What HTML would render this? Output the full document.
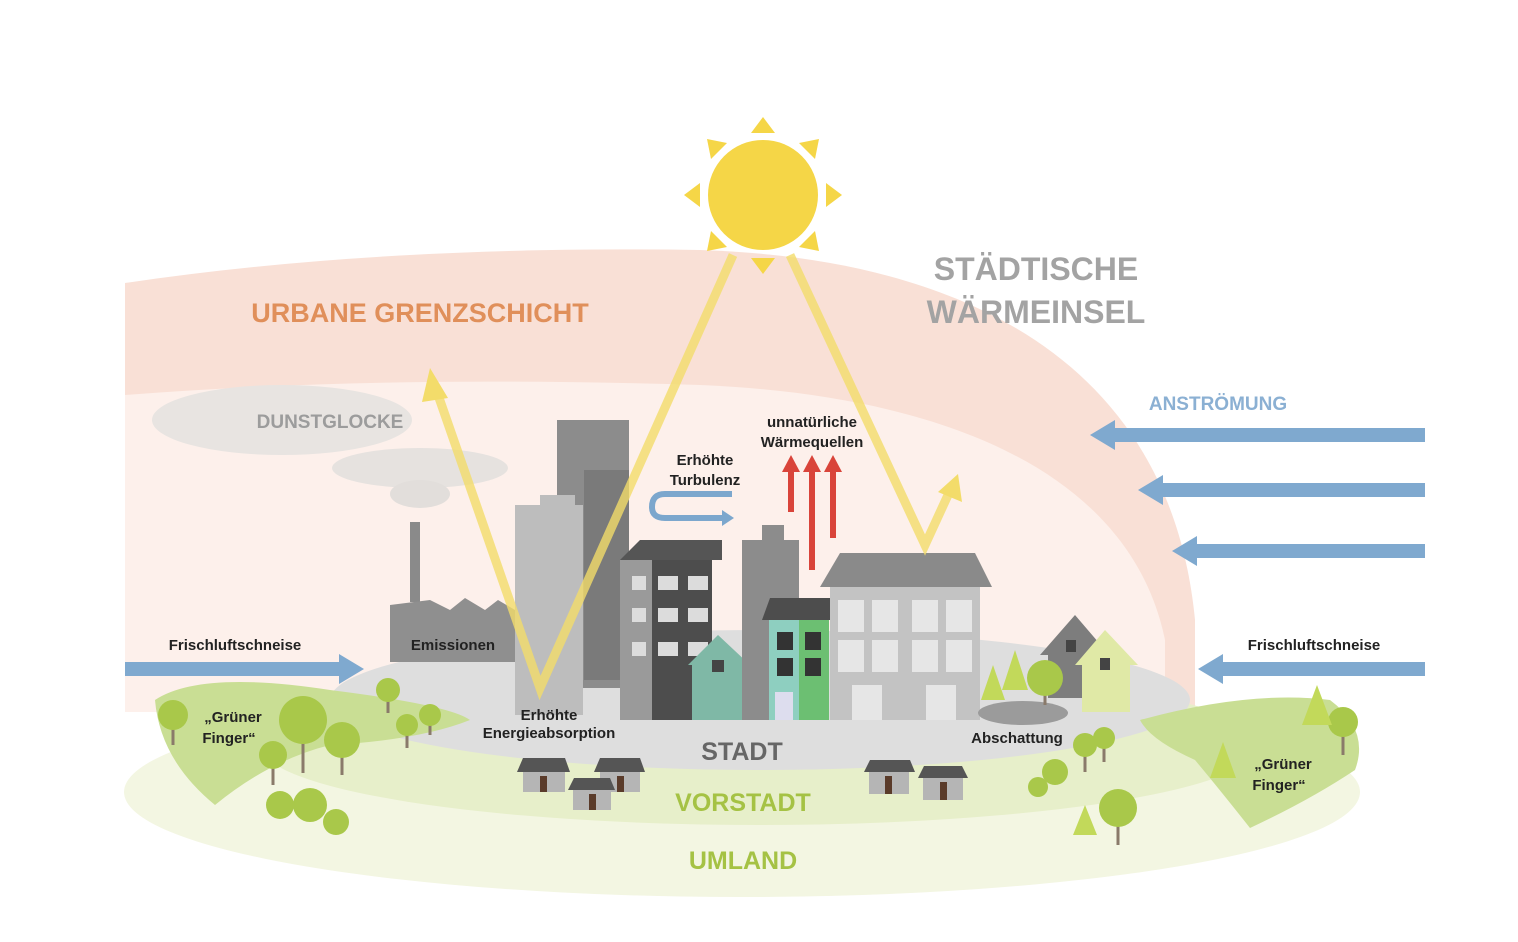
<!DOCTYPE html>
<html><head><meta charset="utf-8"><style>
html,body{margin:0;padding:0;background:#fff}
svg{display:block}
text{font-family:"Liberation Sans",sans-serif;font-weight:bold}
</style></head><body>
<svg width="1518" height="942" viewBox="0 0 1518 942" xmlns="http://www.w3.org/2000/svg">
<rect width="1518" height="942" fill="#fff"/>
<!-- pink dome -->
<path d="M125,283 Q380,245 700,250 C960,258 1170,360 1195,620 L1195,712 L125,712 Z" fill="#f9e0d6"/>
<path d="M125,395 Q380,375 700,385 C940,395 1130,470 1165,640 L1165,712 L125,712 Z" fill="#fdf0eb"/>
<!-- ground -->
<ellipse cx="742" cy="792" rx="618" ry="105" fill="#f3f6e2"/>
<ellipse cx="760" cy="745" rx="500" ry="80" fill="#e7efca"/>
<ellipse cx="760" cy="700" rx="430" ry="70" fill="#dedede"/>
<!-- green fingers -->
<path d="M155,700 Q200,670 330,690 Q450,705 470,720 Q420,740 330,745 Q270,760 215,805 Q160,760 155,700 Z" fill="#c9de94"/>
<path d="M1140,720 Q1250,690 1330,700 Q1370,730 1355,770 Q1310,800 1250,828 Q1220,790 1195,760 Q1150,740 1140,720 Z" fill="#c9de94"/>
<!-- dunstglocke -->
<ellipse cx="282" cy="420" rx="130" ry="35" fill="#e8e4e1"/>
<ellipse cx="420" cy="468" rx="88" ry="20" fill="#e6e2df"/>
<ellipse cx="420" cy="494" rx="30" ry="14" fill="#e2dedb"/>
<!-- factory -->
<rect x="410" y="522" width="10" height="80" fill="#8a8a8a"/>
<path d="M390,605 L430,600 L450,610 L465,598 L485,610 L498,600 L515,610 L515,662 L390,662 Z" fill="#8f8f8f"/>
<!-- towers -->
<rect x="557" y="420" width="72" height="268" fill="#8c8c8c"/>
<rect x="515" y="505" width="68" height="210" fill="#bdbdbd"/>
<rect x="540" y="495" width="35" height="12" fill="#bdbdbd"/>
<rect x="584" y="470" width="45" height="210" fill="#7a7a7a"/>
<!-- dark apartment -->
<path d="M620,560 L640,540 L722,540 L722,560 Z" fill="#555"/>
<rect x="620" y="560" width="35" height="160" fill="#9a9a9a"/>
<rect x="652" y="560" width="60" height="160" fill="#4d4d4d"/>
<g fill="#dcdcdc"><rect x="632" y="576" width="14" height="14"/><rect x="658" y="576" width="20" height="14"/><rect x="688" y="576" width="20" height="14"/>
<rect x="632" y="608" width="14" height="14"/><rect x="658" y="608" width="20" height="14"/><rect x="688" y="608" width="20" height="14"/>
<rect x="632" y="642" width="14" height="14"/><rect x="658" y="642" width="20" height="14"/><rect x="688" y="642" width="20" height="14"/></g>
<!-- teal house -->
<path d="M688,665 L718,635 L750,665 L744,665 L744,720 L692,720 L692,665 Z" fill="#7fb8a6"/>
<rect x="712" y="660" width="12" height="12" fill="#444"/>
<!-- grey tower right -->
<rect x="742" y="540" width="57" height="180" fill="#8c8c8c"/>
<rect x="762" y="525" width="22" height="16" fill="#8c8c8c"/>
<!-- green/teal tall house -->
<path d="M762,620 L770,598 L830,598 L830,620 Z" fill="#4d4d4d"/>
<rect x="769" y="620" width="30" height="100" fill="#8ecfc0"/>
<rect x="799" y="620" width="30" height="100" fill="#6cbf72"/>
<g fill="#333"><rect x="777" y="632" width="16" height="18"/><rect x="805" y="632" width="16" height="18"/><rect x="777" y="658" width="16" height="18"/><rect x="805" y="658" width="16" height="18"/></g>
<rect x="775" y="692" width="18" height="28" fill="#dde"/>
<!-- big building -->
<path d="M820,587 L840,553 L975,553 L992,587 Z" fill="#8a8a8a"/>
<rect x="830" y="587" width="150" height="133" fill="#c3c3c3"/>
<g fill="#e6e6e6"><rect x="838" y="600" width="26" height="32"/><rect x="872" y="600" width="26" height="32"/><rect x="912" y="600" width="26" height="32"/><rect x="946" y="600" width="26" height="32"/>
<rect x="838" y="640" width="26" height="32"/><rect x="872" y="640" width="26" height="32"/><rect x="912" y="640" width="26" height="32"/><rect x="946" y="640" width="26" height="32"/>
<rect x="852" y="685" width="30" height="35"/><rect x="926" y="685" width="30" height="35"/></g>
<!-- right houses -->
<path d="M1040,655 L1075,615 L1105,650 L1100,650 L1100,698 L1048,698 L1048,655 Z" fill="#7d7d7d"/>
<rect x="1066" y="640" width="10" height="12" fill="#444"/>
<path d="M1075,665 L1105,630 L1138,665 L1130,665 L1130,712 L1082,712 L1082,665 Z" fill="#e0e9a6"/>
<rect x="1100" y="658" width="10" height="12" fill="#444"/>
<ellipse cx="1023" cy="713" rx="45" ry="12" fill="#9b9b9b"/>
<!-- small houses -->
<g>
<path d="M517,772 L523,758 L565,758 L570,772 Z" fill="#555"/><rect x="523" y="772" width="42" height="20" fill="#b5b5b5"/><rect x="540" y="776" width="7" height="16" fill="#5a3b2a"/>
<path d="M594,772 L600,758 L640,758 L645,772 Z" fill="#555"/><rect x="600" y="772" width="40" height="20" fill="#b5b5b5"/><rect x="617" y="776" width="7" height="16" fill="#5a3b2a"/>
<path d="M568,790 L574,778 L610,778 L615,790 Z" fill="#555"/><rect x="573" y="790" width="38" height="20" fill="#b5b5b5"/><rect x="589" y="794" width="7" height="16" fill="#5a3b2a"/>
<path d="M864,772 L870,760 L910,760 L915,772 Z" fill="#555"/><rect x="869" y="772" width="40" height="22" fill="#b5b5b5"/><rect x="885" y="776" width="7" height="18" fill="#5a3b2a"/>
<path d="M918,778 L924,766 L962,766 L968,778 Z" fill="#555"/><rect x="923" y="778" width="40" height="22" fill="#b5b5b5"/><rect x="940" y="782" width="7" height="18" fill="#5a3b2a"/>
</g>
<!-- trees -->
<g fill="#a9c84a" stroke="#8a7a6a" stroke-width="3">
<line x1="173" y1="715" x2="173" y2="745"/><circle cx="173" cy="715" r="15" stroke="none"/>
<line x1="303" y1="720" x2="303" y2="773"/><circle cx="303" cy="720" r="24" stroke="none"/>
<line x1="342" y1="740" x2="342" y2="775"/><circle cx="342" cy="740" r="18" stroke="none"/>
<line x1="273" y1="755" x2="273" y2="785"/><circle cx="273" cy="755" r="14" stroke="none"/>
<line x1="388" y1="690" x2="388" y2="713"/><circle cx="388" cy="690" r="12" stroke="none"/>
<line x1="407" y1="725" x2="407" y2="748"/><circle cx="407" cy="725" r="11" stroke="none"/>
<line x1="430" y1="715" x2="430" y2="735"/><circle cx="430" cy="715" r="11" stroke="none"/>
<circle cx="280" cy="805" r="14" stroke="none"/><circle cx="310" cy="805" r="17" stroke="none"/><circle cx="336" cy="822" r="13" stroke="none"/>
<line x1="1045" y1="680" x2="1045" y2="705"/><circle cx="1045" cy="678" r="18" stroke="none"/>
<line x1="1085" y1="745" x2="1085" y2="772"/><circle cx="1085" cy="745" r="12" stroke="none"/>
<line x1="1104" y1="738" x2="1104" y2="762"/><circle cx="1104" cy="738" r="11" stroke="none"/>
<circle cx="1038" cy="787" r="10" stroke="none"/><circle cx="1055" cy="772" r="13" stroke="none"/>
<line x1="1118" y1="808" x2="1118" y2="845"/><circle cx="1118" cy="808" r="19" stroke="none"/>
<line x1="1343" y1="722" x2="1343" y2="755"/><circle cx="1343" cy="722" r="15" stroke="none"/>
</g>
<g fill="#c2d95a">
<path d="M993,665 L1005,700 L981,700 Z"/><path d="M1015,650 L1028,690 L1002,690 Z"/>
<path d="M1085,805 L1097,835 L1073,835 Z"/><path d="M1223,742 L1236,778 L1210,778 Z"/><path d="M1317,685 L1332,725 L1302,725 Z"/>
</g>
<!-- sun -->
<circle cx="763" cy="195" r="55" fill="#f5d647"/>
<g fill="#f5d647">
<path d="M763,117 L775,133 L751,133 Z"/><path d="M763,274 L775,258 L751,258 Z"/>
<path d="M684,195 L700,183 L700,207 Z"/><path d="M842,195 L826,183 L826,207 Z"/>
<path d="M707,139 L727,143 L711,159 Z"/><path d="M819,139 L815,159 L799,143 Z"/>
<path d="M707,251 L711,231 L727,247 Z"/><path d="M819,251 L799,247 L815,231 Z"/>
</g>
<!-- rays -->
<g stroke="#f3dc6a" stroke-width="9" fill="none" opacity="0.8" stroke-linejoin="miter">
<polyline points="733,255 540,688 437,392"/>
<polyline points="790,255 925,545 948,495"/>
</g>
<path d="M430,368 L448,398 L422,402 Z" fill="#f3dc6a"/>
<path d="M958,474 L962,502 L938,492 Z" fill="#f3dc6a"/>
<!-- red arrows -->
<g fill="#d9443a">
<rect x="788" y="470" width="6" height="42"/><path d="M791,455 L800,472 L782,472 Z"/>
<rect x="809" y="470" width="6" height="100"/><path d="M812,455 L821,472 L803,472 Z"/>
<rect x="830" y="470" width="6" height="68"/><path d="M833,455 L842,472 L824,472 Z"/>
</g>
<!-- turbulence -->
<path d="M732,494 L665,494 Q652,494 652,507 Q652,518 665,518 L725,518" fill="none" stroke="#7ca7cd" stroke-width="6"/>
<path d="M722,510 L734,518 L722,526 Z" fill="#7ca7cd"/>
<!-- blue arrows -->
<g fill="#7fa9cf">
<rect x="1110" y="428" width="315" height="14"/><path d="M1090,435 L1115,420 L1115,450 Z"/>
<rect x="1158" y="483" width="267" height="14"/><path d="M1138,490 L1163,475 L1163,505 Z"/>
<rect x="1192" y="544" width="233" height="14"/><path d="M1172,551 L1197,536 L1197,566 Z"/>
<rect x="1218" y="662" width="207" height="14"/><path d="M1198,669 L1223,654 L1223,684 Z"/>
<rect x="125" y="662" width="218" height="14"/><path d="M364,669 L339,654 L339,684 Z"/>
</g>
<!-- labels -->
<text x="420" y="322" font-size="27" fill="#e08f5a" text-anchor="middle">URBANE GRENZSCHICHT</text>
<text x="1036" y="280" font-size="32" fill="#a3a3a3" text-anchor="middle">STÄDTISCHE</text>
<text x="1036" y="323" font-size="32" fill="#a3a3a3" text-anchor="middle">WÄRMEINSEL</text>
<text x="330" y="428" font-size="19" fill="#9c9c9c" text-anchor="middle">DUNSTGLOCKE</text>
<text x="1218" y="410" font-size="19" fill="#8bb0d3" text-anchor="middle">ANSTRÖMUNG</text>
<g font-size="15" fill="#222" text-anchor="middle">
<text x="812" y="427">unnatürliche</text><text x="812" y="447">Wärmequellen</text>
<text x="705" y="465">Erhöhte</text><text x="705" y="485">Turbulenz</text>
<text x="235" y="650">Frischluftschneise</text>
<text x="1314" y="650">Frischluftschneise</text>
<text x="453" y="650">Emissionen</text>
<text x="549" y="720">Erhöhte</text><text x="549" y="738">Energieabsorption</text>
<text x="1017" y="743">Abschattung</text>
<text x="233" y="722">„Grüner</text><text x="229" y="743">Finger“</text>
<text x="1283" y="769">„Grüner</text><text x="1279" y="790">Finger“</text>
</g>
<text x="742" y="760" font-size="25" fill="#666" text-anchor="middle">STADT</text>
<text x="743" y="811" font-size="25" fill="#a5c244" text-anchor="middle">VORSTADT</text>
<text x="743" y="869" font-size="25" fill="#a5c244" text-anchor="middle">UMLAND</text>
</svg>
</body></html>
